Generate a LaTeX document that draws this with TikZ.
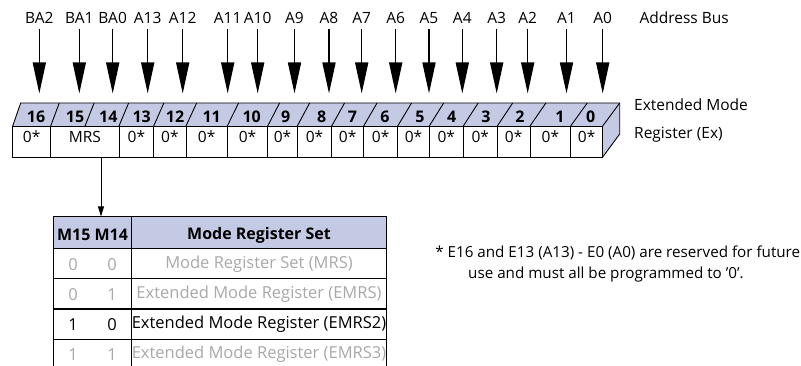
\documentclass[tikz,border=0pt]{standalone}
\usepackage{fontspec}
\setmainfont{Open Sans}
\usetikzlibrary{arrows.meta}
\definecolor{lav}{RGB}{197,202,228}
\definecolor{gry}{RGB}{168,168,168}
\tikzset{
  buslbl/.style={font=\fontsize{15.5}{17}\selectfont, inner sep=0pt, anchor=center},
  busarrow/.style={line width=1.5pt, -{Triangle[length=31pt,width=13pt]}},
  bitnum/.style={font=\bfseries\fontsize{16}{17}\selectfont, inner sep=0pt, anchor=base},
  cellval/.style={font=\fontsize{15.5}{17}\selectfont, inner sep=0pt, anchor=center},
  sidelbl/.style={font=\fontsize{15.5}{17}\selectfont, inner sep=0pt, anchor=west},
  regline/.style={line width=0.9pt, black},
  tblline/.style={line width=1pt, black},
  smallarrow/.style={line width=0.9pt, -{Triangle[length=10pt,width=6pt]}},
  hdrtxt/.style={font=\bfseries\fontsize{16}{17}\selectfont, inner sep=0pt, anchor=center},
  rowtxt/.style={font=\fontsize{16.5}{18}\selectfont, inner sep=0pt, anchor=center},
  notetxt/.style={font=\fontsize{15.2}{17}\selectfont, inner sep=0pt, anchor=center},
}
\begin{document}
\begin{tikzpicture}[x=1pt,y=-1pt]
\useasboundingbox (0,0) rectangle (801,366);
% ---------- register box ----------
\fill[lav] (12.7,126) -- (20.7,103) -- (619.7,103) -- (602.7,126) -- cycle;
\fill[lav] (602.7,126) -- (619.7,103) -- (619.7,134) -- (602.7,157) -- cycle;
\fill[white] (12.7,126) rectangle (602.7,157);
\draw[regline] (12.7,126) -- (20.7,103) -- (619.7,103) -- (619.7,134) -- (602.7,157);
\draw[regline] (602.7,126) -- (619.7,103);
\draw[regline] (12.7,126) rectangle (602.7,157);
\foreach \x in {50.7,119,153.7,186,227.3,267.7,297.3,331.7,363.7,397.7,429.3,463.3,497.3,530,570.7}{
  \draw[regline] (\x,126) -- (\x,157);
}
\foreach \x in {50.7,85,119,153.7,186,227.3,267.7,297.3,331.7,363.7,397.7,429.3,463.3,497.3,530,570.7}{
  \pgfmathsetmacro\dx{8+9*(\x-12.7)/590}
  \draw[regline] (\x,126) -- (\x+\dx,103);
}
% bit numbers
\foreach \x/\n in {36/16,75/15,108.3/14,141.7/13,175/12,211.7/11,251.7/10,285.7/9,321.7/8,352.5/7,385/6,420/5,451.7/4,486/3,520/2,560/1,590.7/0}{
  \node[bitnum] (b\n) at (\x,122.5) {\n};
}
% cell values
\foreach \x/\n in {31.7/16,136.4/13,169.9/12,206.7/11,247.5/10,282.5/9,314.5/8,347.7/7,380.7/6,413.5/5,446.3/4,480.3/3,513.7/2,550.4/1,586.7/0}{
  \node[cellval] (c\n) at (\x,136.5) {0*};
}
\node[cellval] (cmrs) at (84.9,136.5) {MRS};
% side label
\node[sidelbl] (ext1) at (634,105) {Extended Mode};
\node[sidelbl] (ext2) at (634,135) {Register (Ex)};
% ---------- address bus ----------
\foreach \x/\n/\t in {39.3/0/BA2,79.3/1/BA1,112.7/2/BA0,147.7/3/A13,182.7/4/A12,227.7/5/A11,257.7/6/A10,294.5/7/A9,329/8/A8,361.7/9/A7,395.7/10/A6,429/11/A5,462.3/12/A4,496.7/13/A3,527.7/14/A2,566.5/15/A1,602.7/16/A0}{
  \node[buslbl] (l\n) at (\x,18) {\t};
  \coordinate (t\n) at (\x,93.5);
  \draw[busarrow] ([yshift=-5pt]l\n.south) -- (t\n);
}
\node[buslbl, anchor=west] (abus) at (639.3,17.5) {Address Bus};
% ---------- MRS to table ----------
\coordinate (mrsout) at (101,157);
\coordinate (tblin) at (101,216.5);
\draw[smallarrow] (mrsout) -- (tblin);
% ---------- table ----------
\fill[lav] (53.3,217) rectangle (386.7,249);
\draw[tblline] (53.3,370) -- (53.3,217) -- (386.7,217) -- (386.7,370);
\draw[tblline] (131.7,217) -- (131.7,370);
\foreach \y in {249,279,309,339}{
  \draw[tblline] (53.3,\y) -- (386.7,\y);
}
\node[hdrtxt] (h1) at (92.5,235) {M15 M14};
\node[hdrtxt] (h2) at (259,235) {Mode Register Set};
\node[rowtxt, gry] (r1a) at (73,264.5) {0};
\node[rowtxt, gry] (r1b) at (112,264.5) {0};
\node[rowtxt, gry] (r1c) at (259,264.5) {Mode Register Set (MRS)};
\node[rowtxt, gry] (r2a) at (73,294.5) {0};
\node[rowtxt, gry] (r2b) at (112,294.5) {1};
\node[rowtxt, gry] (r2c) at (259,294.5) {Extended Mode Register (EMRS)};
\node[rowtxt] (r3a) at (73,324.5) {1};
\node[rowtxt] (r3b) at (112,324.5) {0};
\node[rowtxt] (r3c) at (259,324.5) {Extended Mode Register (EMRS2)};
\node[rowtxt, gry] (r4a) at (73,354.5) {1};
\node[rowtxt, gry] (r4b) at (112,354.5) {1};
\node[rowtxt, gry] (r4c) at (259,354.5) {Extended Mode Register (EMRS3)};
% ---------- footnote ----------
\node[notetxt] (n1) at (617.7,253) {* E16 and E13 (A13) - E0 (A0) are reserved for future};
\node[notetxt] (n2) at (606,275) {use and must all be programmed to '0'.};
\end{tikzpicture}
\end{document}
